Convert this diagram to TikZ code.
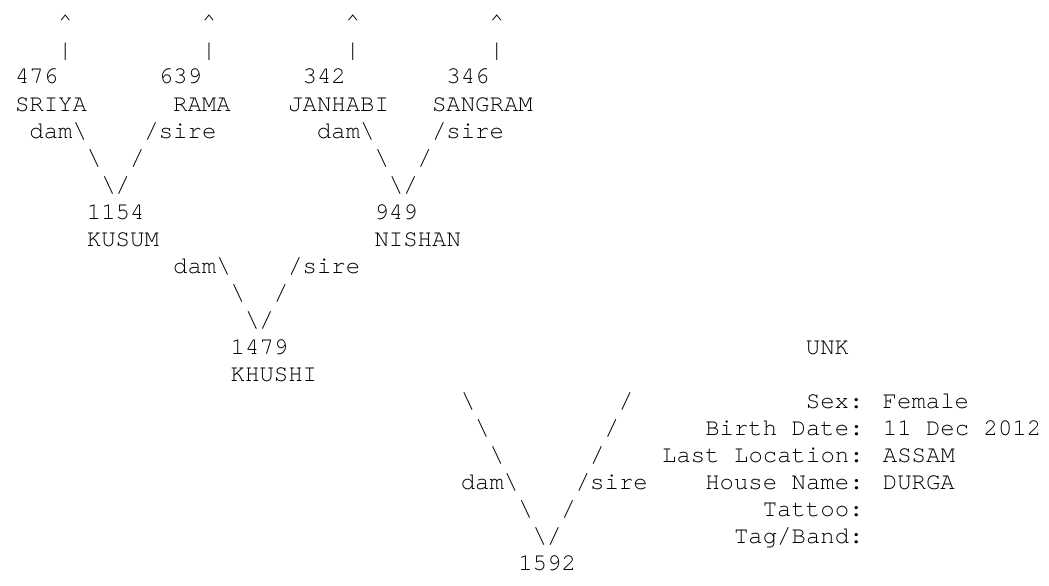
\documentclass[tikz,border=0pt]{standalone}
\usepackage{fontspec}
\newfontfamily\asciimono{texgyrecursor-regular.otf}
\newcommand\cellat[4]{\node[txt] (#1) at ({15+14.38*(#2)},{-(30+27*(#3))}) {#4};}
\begin{document}
\begin{tikzpicture}[x=1pt,y=1pt,
  txt/.style={anchor=base west, inner sep=0pt, outer sep=0pt, text=black,
    font=\asciimono\fontsize{24}{27}\selectfont}]
\fill[white] (0,0) rectangle (1049,-586);
\useasboundingbox (0,0) rectangle (1049,-586);
% row 0
\cellat{ca}{3}{0}{\textasciicircum}
\cellat{cb}{13}{0}{\textasciicircum}
\cellat{cc}{23}{0}{\textasciicircum}
\cellat{cd}{33}{0}{\textasciicircum}
% row 1
\cellat{pa}{3}{1}{|}
\cellat{pb}{13}{1}{|}
\cellat{pc}{23}{1}{|}
\cellat{pd}{33}{1}{|}
% row 2
\cellat{n476}{0}{2}{476}
\cellat{n639}{10}{2}{639}
\cellat{n342}{20}{2}{342}
\cellat{n346}{30}{2}{346}
% row 3
\cellat{sriya}{0}{3}{SRIYA}
\cellat{rama}{11}{3}{RAMA}
\cellat{janhabi}{19}{3}{JANHABI}
\cellat{sangram}{29}{3}{SANGRAM}
% row 4
\cellat{damA}{1}{4}{dam\textbackslash}
\cellat{sireA}{9}{4}{/sire}
\cellat{damB}{21}{4}{dam\textbackslash}
\cellat{sireB}{29}{4}{/sire}
% row 5
\cellat{bsA}{5}{5}{\textbackslash}
\cellat{fsA}{8}{5}{/}
\cellat{bsB}{25}{5}{\textbackslash}
\cellat{fsB}{28}{5}{/}
% row 6
\cellat{vA}{6}{6}{\textbackslash/}
\cellat{vB}{26}{6}{\textbackslash/}
% row 7
\cellat{n1154}{5}{7}{1154}
\cellat{n949}{25}{7}{949}
% row 8
\cellat{kusum}{5}{8}{KUSUM}
\cellat{nishan}{25}{8}{NISHAN}
% row 9
\cellat{damC}{11}{9}{dam\textbackslash}
\cellat{sireC}{19}{9}{/sire}
% row 10
\cellat{bsC}{15}{10}{\textbackslash}
\cellat{fsC}{18}{10}{/}
% row 11
\cellat{vC}{16}{11}{\textbackslash/}
% row 12
\cellat{n1479}{15}{12}{1479}
\cellat{unk}{55}{12}{UNK}
% row 13
\cellat{khushi}{15}{13}{KHUSHI}
% row 14
\cellat{bsD1}{31}{14}{\textbackslash}
\cellat{fsD1}{42}{14}{/}
\cellat{sex}{55}{14}{Sex: Female}
% row 15
\cellat{bsD2}{32}{15}{\textbackslash}
\cellat{fsD2}{41}{15}{/}
\cellat{birth}{48}{15}{Birth Date: 11 Dec 2012}
% row 16
\cellat{bsD3}{33}{16}{\textbackslash}
\cellat{fsD3}{40}{16}{/}
\cellat{loc}{45}{16}{Last Location: ASSAM}
% row 17
\cellat{damD}{31}{17}{dam\textbackslash}
\cellat{sireD}{39}{17}{/sire}
\cellat{house}{48}{17}{House Name: DURGA}
% row 18
\cellat{bsD4}{35}{18}{\textbackslash}
\cellat{fsD4}{38}{18}{/}
\cellat{tattoo}{52}{18}{Tattoo:}
% row 19
\cellat{vD}{36}{19}{\textbackslash/}
\cellat{tag}{50}{19}{Tag/Band:}
% row 20
\cellat{n1592}{35}{20}{1592}
\end{tikzpicture}
\end{document}
